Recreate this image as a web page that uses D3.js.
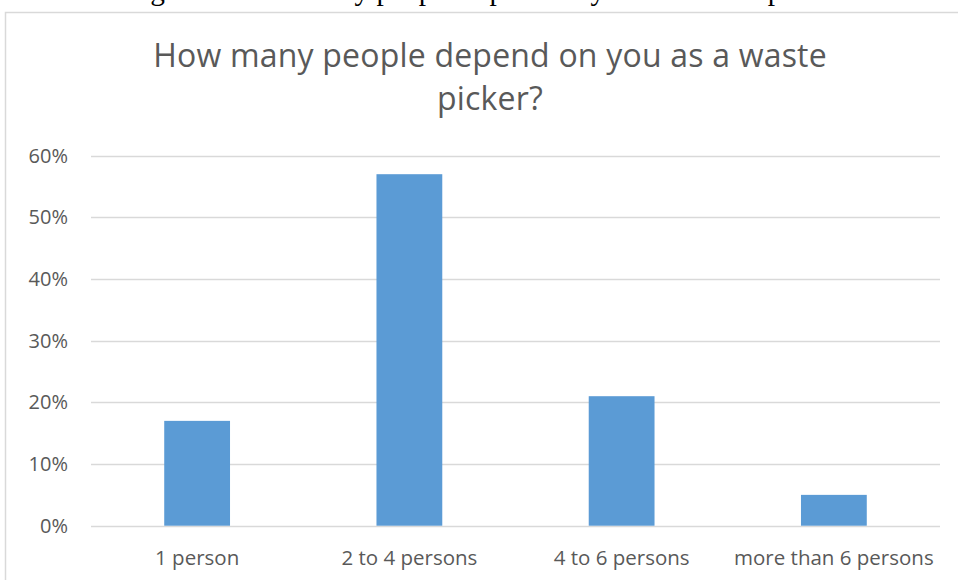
<!DOCTYPE html>
<html>
<head>
<meta charset="utf-8">
<script src="https://cdn.jsdelivr.net/npm/d3@7"></script>
<style>
  html, body { margin: 0; padding: 0; background: #fff; }
  svg { display: block; }
</style>
</head>
<body>
<svg id="chart" width="958" height="580"></svg>
<script>
// Survey: number of dependants per waste picker
const categories = ["1 person", "2 to 4 persons", "4 to 6 persons", "more than 6 persons"];
const shares = [0.17, 0.57, 0.21, 0.05];
const yTicks = [0, 0.1, 0.2, 0.3, 0.4, 0.5, 0.6];
const titleLines = ["How many people depend on you as a waste", "picker?"];
const captionText = "Figure 8: How many people depend on you as a waste picker?";

const W = 958, H = 580;
const svg = d3.select("#chart");
const uiFont = "'Open Sans', Lato, sans-serif";
const textColor = "#595959";

// Document caption above the chart frame (runs off the top edge)
svg.append("text")
  .attr("x", 490).attr("y", 0)
  .attr("text-anchor", "middle")
  .style("font-family", "'Liberation Serif', 'Times New Roman', serif")
  .style("font-size", "29.3px")
  .attr("fill", "#000")
  .text(captionText);

// Chart frame
svg.append("rect")
  .attr("x", 5.5).attr("y", 12.5)
  .attr("width", W + 10).attr("height", H + 10)
  .attr("fill", "#fff")
  .attr("stroke", "#d9d9d9").attr("stroke-width", 1.5);

// Title
svg.append("g").selectAll("text")
  .data(titleLines).join("text")
  .attr("x", 490)
  .attr("y", (d, i) => 67 + i * 43)
  .attr("text-anchor", "middle")
  .style("font-family", uiFont)
  .style("font-size", "32px")
  .style("letter-spacing", "0.2px")
  .attr("fill", textColor)
  .text(d => d);

// Scales
const x = d3.scaleBand()
  .domain(categories)
  .range([91, 940])
  .paddingInner(0.69)
  .paddingOuter(0.345);

const y = d3.scaleLinear()
  .domain([0, 0.6])
  .range([525.7, 155.7]);

// Gridlines
svg.append("g")
  .selectAll("line")
  .data(yTicks).join("line")
  .attr("x1", 91).attr("x2", 940)
  .attr("y1", d => Math.round(y(d)) + 0.5)
  .attr("y2", d => Math.round(y(d)) + 0.5)
  .attr("stroke", "#d9d9d9").attr("stroke-width", 1.5);

// Y axis labels
const yAxis = d3.axisLeft(y)
  .tickValues(yTicks)
  .tickFormat(d3.format(".0%"))
  .tickSize(0)
  .tickPadding(0);
const gy = svg.append("g")
  .attr("transform", "translate(68,0)")
  .call(yAxis);
gy.select(".domain").remove();
gy.selectAll("text")
  .style("font-family", uiFont)
  .style("font-size", "20px")
  .attr("fill", textColor);

// Bars
svg.append("g")
  .selectAll("rect")
  .data(categories.map((c, i) => ({ c, v: shares[i] })))
  .join("rect")
  .attr("x", d => x(d.c))
  .attr("y", d => y(d.v))
  .attr("width", x.bandwidth())
  .attr("height", d => y(0) - y(d.v))
  .attr("fill", "#5b9bd5");

// X axis labels
const xAxis = d3.axisBottom(x).tickSize(0).tickPadding(0);
const gx = svg.append("g")
  .attr("transform", "translate(0,550)")
  .call(xAxis);
gx.select(".domain").remove();
gx.selectAll("text")
  .attr("dy", "0.71em")
  .style("font-family", uiFont)
  .style("font-size", "20.5px")
  .attr("fill", textColor);
</script>
</body>
</html>
